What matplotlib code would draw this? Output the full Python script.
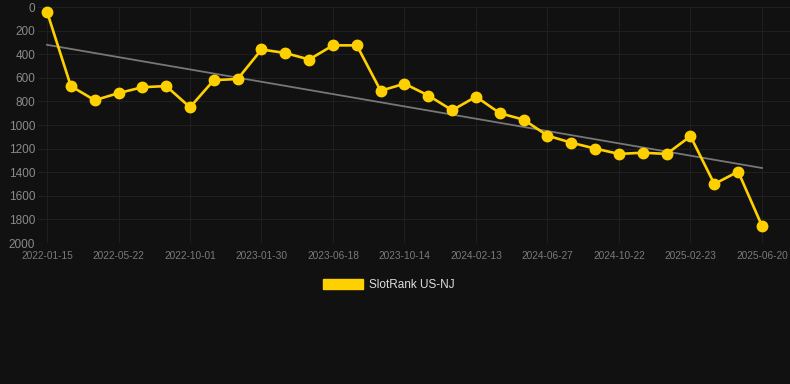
import numpy as np
import matplotlib
matplotlib.use("Agg")
import matplotlib.pyplot as plt
from matplotlib.patches import Patch

plt.rcParams['font.family'] = ['Liberation Sans', 'DejaVu Sans']

# rank per sample (31 samples, labels shown every 3rd)
ranks = [40, 670, 790, 730, 680, 670, 850, 620, 610, 360,
         390, 445, 325, 325, 710, 650, 750, 875, 760, 900,
         955, 1090, 1150, 1200, 1245, 1235, 1245, 1095, 1500, 1395,
         1855]
tick_labels = ['2022-01-15', '2022-05-22', '2022-10-01', '2023-01-30',
               '2023-06-18', '2023-10-14', '2024-02-13', '2024-06-27',
               '2024-10-22', '2025-02-23', '2025-06-20']
y_ticks = [0, 200, 400, 600, 800, 1000, 1200, 1400, 1600, 1800, 2000]

bg = '#111111'
yellow = '#FFD000'

x = np.arange(len(ranks))
k, b = np.polyfit(x, ranks, 1)

fig = plt.figure(figsize=(7.9, 3.84), dpi=100, facecolor=bg)
ax = fig.add_axes([38/790, 1-243/384, 752/790, 236/384])
ax.set_facecolor(bg)

ax.plot(x, k*x + b, color='#777777', lw=1.3, zorder=2)
ax.plot(x, ranks, color=yellow, lw=1.9, marker='o', ms=7.5,
        zorder=3, clip_on=False)

ax.set_xlim(-9/23.83, 30 + 28/23.83)
ax.set_ylim(2000, 0)
ax.set_xticks(x[::3])
ax.set_xticklabels(tick_labels)
ax.set_yticks(y_ticks)

ax.grid(True, color='#1f1f1f', lw=0.8)
ax.set_axisbelow(True)
for s in ax.spines.values():
    s.set_visible(False)
ax.tick_params(axis='both', length=0)
ax.tick_params(axis='y', labelsize=8.5, labelcolor='#8a8a8a', pad=2)
ax.tick_params(axis='x', labelsize=7.3, labelcolor='#7a7a7a', pad=6)

handle = Patch(facecolor=yellow, edgecolor=yellow)
leg = fig.legend([handle], ['SlotRank US-NJ'], loc='center',
                 bbox_to_anchor=(0.5 - 6/790, 1-285/384), frameon=False,
                 fontsize=8.5, handlelength=3.4, handleheight=1.0,
                 handletextpad=0.5)
for t in leg.get_texts():
    t.set_color('#dddddd')

fig.savefig('out.png', dpi=100, facecolor=bg)
